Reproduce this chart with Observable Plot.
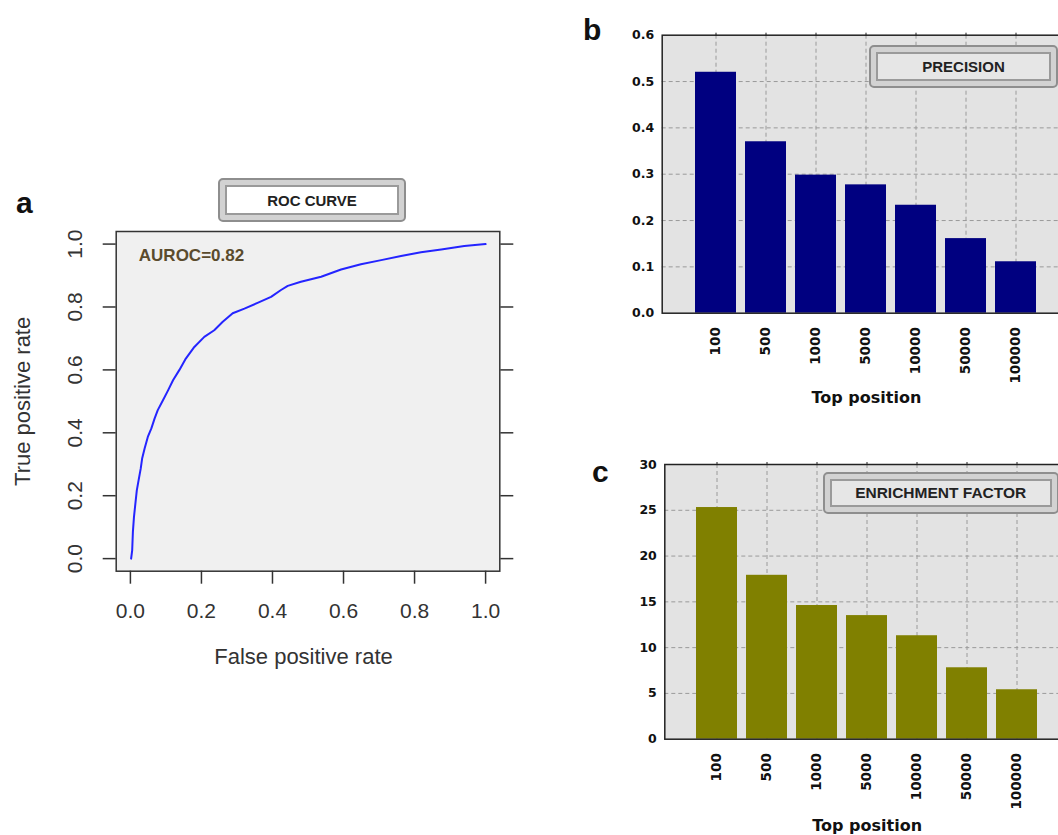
<!DOCTYPE html>
<html><head><meta charset="utf-8">
<script src="https://cdn.jsdelivr.net/npm/d3@7"></script>
<script src="https://cdn.jsdelivr.net/npm/@observablehq/plot@0.6"></script>
<style>
html,body{margin:0;padding:0;background:#fff;overflow:hidden;}
#wrap{position:relative;width:1058px;height:835px;overflow:hidden;font-family:"Liberation Sans",Arial,sans-serif;}
.panel{position:absolute;}
.panel svg{display:block;max-width:none !important;}
.tag{position:absolute;font-weight:bold;font-size:30px;line-height:30px;color:#111;}
.tbox{position:absolute;box-sizing:border-box;border:2px solid #8e8e8e;border-radius:5px;background:#d2d2d2;padding:5px;}
.tbox .in{box-sizing:border-box;width:100%;height:100%;border:2px solid #9a9a9a;display:flex;align-items:center;justify-content:center;font-weight:bold;color:#222;font-size:15px;}
</style></head><body><div id="wrap"></div>
<script>
// ROC curve (panel a)
const rocFPR = [0.002,0.005,0.007,0.010,0.014,0.018,0.023,0.029,0.033,0.040,0.049,0.059,0.068,0.077,0.092,0.106,0.120,0.138,0.156,0.180,0.208,0.236,0.260,0.288,0.321,0.358,0.396,0.424,0.443,0.480,0.537,0.593,0.649,0.706,0.762,0.818,0.875,0.940,1.000];
const rocTPR = [0.000,0.026,0.085,0.132,0.175,0.217,0.249,0.286,0.318,0.350,0.387,0.414,0.445,0.472,0.504,0.535,0.567,0.600,0.636,0.673,0.705,0.726,0.753,0.780,0.795,0.813,0.832,0.854,0.867,0.880,0.896,0.919,0.936,0.949,0.962,0.974,0.983,0.994,1.000];
const rocTicks = [0, 0.2, 0.4, 0.6, 0.8, 1.0];
const aurocLabel = "AUROC=0.82";

// Bars (panels b and c)
const topPositions = ["100","500","1000","5000","10000","50000","100000"];
const precision = [0.520, 0.370, 0.298, 0.277, 0.233, 0.161, 0.111];
const enrichment = [25.3, 17.9, 14.6, 13.5, 11.3, 7.8, 5.4];
const precisionTicks = [0, 0.1, 0.2, 0.3, 0.4, 0.5, 0.6];
const enrichmentTicks = [0, 5, 10, 15, 20, 25, 30];

const wrap = document.getElementById("wrap");
function place(node, left, top) {
  const d = document.createElement("div");
  d.className = "panel"; d.style.left = left + "px"; d.style.top = top + "px";
  d.appendChild(node); wrap.appendChild(d);
}

// ---- Panel a ----
const roc = rocFPR.map((x, i) => ({fpr: x, tpr: rocTPR[i]}));
const A = Plot.plot({
  width: 540, height: 700,
  marginLeft: 115.7, marginRight: 40.7, marginTop: 231, marginBottom: 129.3,
  x: {domain: [-0.04, 1.04]},
  y: {domain: [-0.04, 1.04]},
  style: {fontFamily: "Liberation Sans, Arial, sans-serif", color: "#333", background: "transparent"},
  marks: [
    Plot.frame({fill: "#f0f0f0"}),
    Plot.axisX({ticks: rocTicks, tickSize: 13, tickFormat: () => "", stroke: "#333", strokeWidth: 1.5, label: null}),
    Plot.axisY({ticks: rocTicks, tickSize: 13, tickFormat: () => "", stroke: "#333", strokeWidth: 1.5, anchor: "left", label: null}),
    Plot.axisY({ticks: rocTicks, tickSize: 13, tickFormat: () => "", stroke: "#333", strokeWidth: 1.5, anchor: "right", label: null}),
    Plot.text(rocTicks, {x: d => d, frameAnchor: "bottom", dy: 40.3, text: d => d.toFixed(1), fontSize: 21, fill: "#333", textAnchor: "middle", lineAnchor: "middle"}),
    Plot.text(rocTicks, {y: d => d, frameAnchor: "left", dx: -40.7, rotate: -90, text: d => d.toFixed(1), fontSize: 21, fill: "#333", textAnchor: "middle", lineAnchor: "middle"}),
    Plot.line(roc, {x: "fpr", y: "tpr", stroke: "#2424ff", strokeWidth: 2}),
    Plot.frame({stroke: "#333", strokeWidth: 1.5}),
    Plot.text([aurocLabel], {frameAnchor: "top-left", dx: 22.6, dy: 24, text: d => d, textAnchor: "start", lineAnchor: "middle", fontWeight: "bold", fontSize: 17, fill: "#5a4b2d"}),
    Plot.text(["False positive rate"], {frameAnchor: "bottom", dx: -4.5, dy: 86, text: d => d, fontSize: 22, fill: "#333", textAnchor: "middle", lineAnchor: "middle"}),
    Plot.text(["True positive rate"], {frameAnchor: "left", dx: -93, rotate: -90, text: d => d, fontSize: 22, fill: "#333", textAnchor: "middle", lineAnchor: "middle"})
  ]
});
place(A, 0, 0);

// ---- Bar panels ----
function barPanel({values, ticks, fmt, color, marginLeft, marginTop, marginBottom, height, range, dxTitle, dyTitle}) {
  const data = topPositions.map((k, i) => ({k, v: values[i]}));
  return Plot.plot({
    width: 500, height,
    marginLeft, marginRight: 0, marginTop, marginBottom,
    x: {domain: topPositions, range, paddingInner: 0.18, paddingOuter: 0.09},
    y: {domain: [ticks[0], ticks[ticks.length - 1]]},
    style: {fontFamily: "DejaVu Sans, sans-serif", color: "#111", background: "transparent"},
    marks: [
      Plot.frame({fill: "#e3e3e3"}),
      Plot.gridY({ticks: ticks.slice(1, -1), stroke: "#9a9a9a", strokeOpacity: 1, strokeDasharray: "4,3"}),
      Plot.gridX({stroke: "#9a9a9a", strokeOpacity: 1, strokeDasharray: "4,3"}),
      Plot.barY(data, {x: "k", y: "v", fill: color, inset: 0}),
      Plot.axisY({ticks, tickSize: 0, tickPadding: 8, tickFormat: fmt, fontSize: 12.5, fontWeight: "bold", fill: "#111", label: null}),
      Plot.axisX({tickSize: 0, tickRotate: -90, tickPadding: 14, fontSize: 13.5, fontWeight: "bold", fill: "#111", label: null}),
      Plot.axisX({anchor: "top", tickSize: 3, tickFormat: () => "", stroke: "#222", label: null}),
      Plot.frame({stroke: "#222", strokeWidth: 1.5}),
      Plot.text(["Top position"], {frameAnchor: "bottom", dx: dxTitle, dy: dyTitle, text: d => d, fontSize: 16, fontWeight: "bold", fill: "#111", textAnchor: "middle", lineAnchor: "middle"})
    ]
  });
}

const B = barPanel({values: precision, ticks: precisionTicks, fmt: d => d.toFixed(1), color: "#000080",
  marginLeft: 81.7, marginTop: 34.7, marginBottom: 97.3, height: 410, range: [107, 463.5], dxTitle: -4.9, dyTitle: 84.3});
place(B, 580, 0);

const C = barPanel({values: enrichment, ticks: enrichmentTicks, fmt: d => String(d), color: "#808000",
  marginLeft: 84.3, marginTop: 34, marginBottom: 96.3, height: 405, range: [110.6, 463.2], dxTitle: -5.5, dyTitle: 86.3});
place(C, 580, 430);

// ---- Panel tags and title boxes ----
function tag(t, left, top) {
  const d = document.createElement("div"); d.className = "tag"; d.textContent = t;
  d.style.left = left + "px"; d.style.top = top + "px"; wrap.appendChild(d);
}
tag("a", 16, 187.6); tag("b", 583, 14.6); tag("c", 592, 456.6);

function tbox(t, left, top, w, h, bg, fs) {
  const o = document.createElement("div"); o.className = "tbox";
  Object.assign(o.style, {left: left + "px", top: top + "px", width: w + "px", height: h + "px"});
  const i = document.createElement("div"); i.className = "in"; i.textContent = t;
  i.style.background = bg; i.style.fontSize = fs + "px";
  o.appendChild(i); wrap.appendChild(o);
}
tbox("ROC CURVE", 218, 178, 188, 44, "#ffffff", 15);
tbox("PRECISION", 869, 45, 189, 43, "#e6e6e6", 15);
tbox("ENRICHMENT FACTOR", 822.7, 471.7, 236, 42.5, "#e6e6e6", 15.5);
</script></body></html>
